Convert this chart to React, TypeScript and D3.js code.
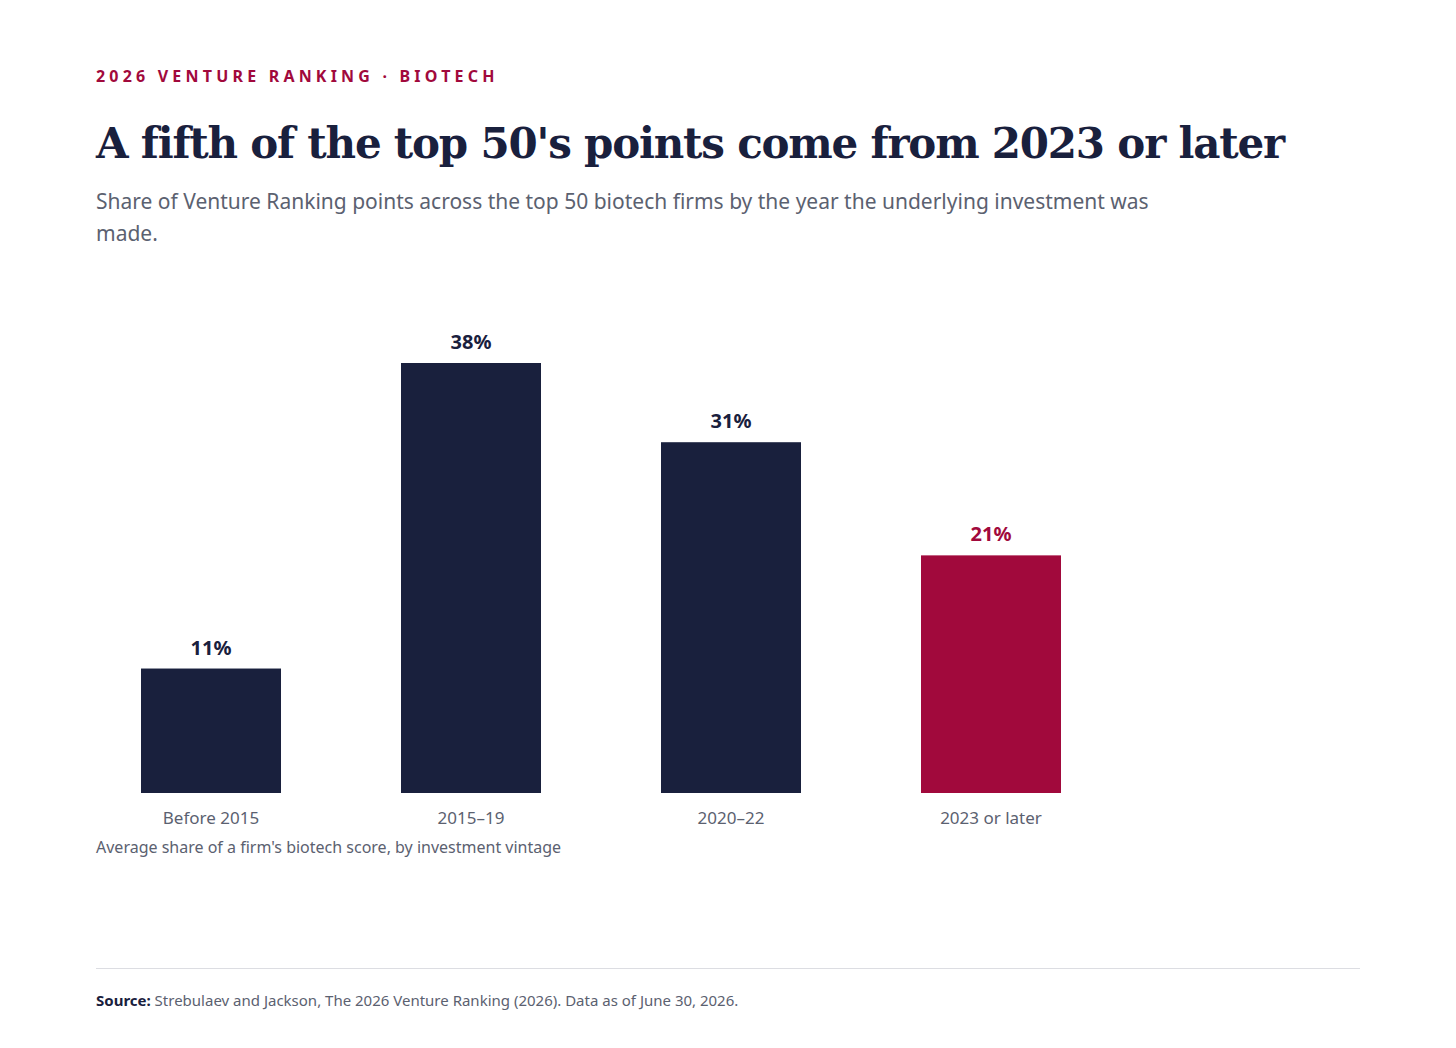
import React from "react";
import * as d3 from "d3";

const categories = ["Before 2015", "2015–19", "2020–22", "2023 or later"];
const values = [11, 38, 31, 21];
const highlight = [false, false, false, true];

const NAVY = "#19203d";
const CRIMSON = "#a1093c";
const GRAY = "#5b6170";
const SANS = "'Noto Sans', 'Open Sans', sans-serif";

export default function App() {
  const x = d3.scaleBand<string>().domain(categories).range([81, 1121]).paddingInner(120 / 260).paddingOuter(0.2308);
  const y = d3.scaleLinear().domain([0, 38]).range([793, 363]);
  return (
    <svg width={1456} height={1048} style={{ position: "absolute", left: 0, top: 0, background: "#fff" }}>
      <text x={96} y={82} fill={CRIMSON} fontFamily={SANS} fontWeight={700} fontSize={16} letterSpacing={4.2}>
        2026 VENTURE RANKING · BIOTECH
      </text>
      <text x={96} y={158} fill={NAVY} fontFamily="'DejaVu Serif', serif" fontWeight={700} fontSize={42} letterSpacing={-1.2}>
        A fifth of the top 50's points come from 2023 or later
      </text>
      <text x={96} y={209} fill={GRAY} fontFamily={SANS} fontSize={21}>
        Share of Venture Ranking points across the top 50 biotech firms by the year the underlying investment was
      </text>
      <text x={96} y={241} fill={GRAY} fontFamily={SANS} fontSize={21}>made.</text>
      {categories.map((c, i) => {
        const bx = x(c)!;
        const col = highlight[i] ? CRIMSON : NAVY;
        return (
          <g key={c}>
            <rect x={bx} y={y(values[i])} width={x.bandwidth()} height={y(0) - y(values[i])} fill={col} />
            <text x={bx + x.bandwidth() / 2} y={y(values[i]) - 14} textAnchor="middle" fill={col} fontFamily={SANS} fontWeight={700} fontSize={20}>
              {values[i]}%
            </text>
            <text x={bx + x.bandwidth() / 2} y={824} textAnchor="middle" fill={GRAY} fontFamily={SANS} fontSize={17}>
              {c}
            </text>
          </g>
        );
      })}
      <text x={96} y={853} fill={GRAY} fontFamily={SANS} fontSize={16}>
        Average share of a firm's biotech score, by investment vintage
      </text>
      <line x1={96} x2={1360} y1={968.5} y2={968.5} stroke="#dcdde2" />
      <text x={96} y={1006} fill={GRAY} fontFamily={SANS} fontSize={15}>
        <tspan fontWeight={700} fill={NAVY}>Source:</tspan> Strebulaev and Jackson, The 2026 Venture Ranking (2026). Data as of June 30, 2026.
      </text>
    </svg>
  );
}
